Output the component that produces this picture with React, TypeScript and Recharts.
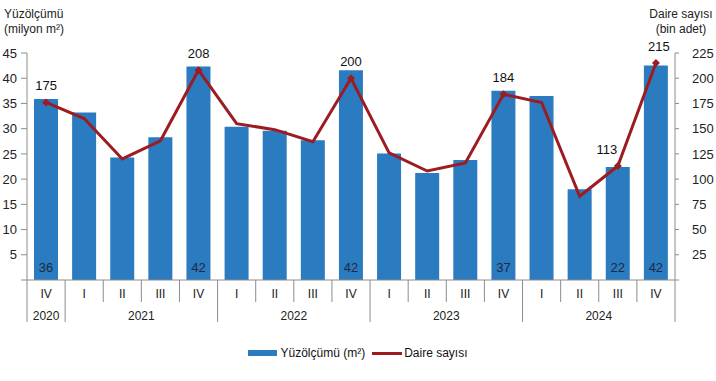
import React from 'react';
import { ComposedChart, Bar, Line, XAxis, YAxis, LabelList, Legend } from 'recharts';

const quarters = ['IV', 'I', 'II', 'III', 'IV', 'I', 'II', 'III', 'IV', 'I', 'II', 'III', 'IV', 'I', 'II', 'III', 'IV'];
const years = ['2020', '2021', '2021', '2021', '2021', '2022', '2022', '2022', '2022', '2023', '2023', '2023', '2023', '2024', '2024', '2024', '2024'];
const yuzolcumu = [35.9, 33.2, 24.3, 28.3, 42.3, 30.4, 29.6, 27.7, 41.6, 25.1, 21.2, 23.8, 37.5, 36.5, 18.0, 22.4, 42.5];
const daire = [176, 160, 120, 138, 208, 155, 149, 137, 200, 126, 108, 116, 184, 176, 83, 113, 215];
const yuzolcumuEtiket = [36, null, null, null, 42, null, null, null, 42, null, null, null, 37, null, null, 22, 42];
const daireEtiket = [175, null, null, null, 208, null, null, null, 200, null, null, null, 184, null, null, 113, 215];

const leftTicks = [0, 5, 10, 15, 20, 25, 30, 35, 40, 45];
const rightTicks = [0, 25, 50, 75, 100, 125, 150, 175, 200, 225];

const data = quarters.map((q, i) => ({
    key: `${years[i]}-${q}-${i}`,
    quarter: q,
    year: years[i],
    alan: yuzolcumu[i],
    daire: daire[i],
    alanEtiket: yuzolcumuEtiket[i],
    daireEtiket: daireEtiket[i],
}));

const W = 716;
const H = 381;
const PLOT_LEFT = 27;
const PLOT_RIGHT = 675;
const BAND = (PLOT_RIGHT - PLOT_LEFT) / quarters.length;

const BLUE = '#2B7BC0';
const RED = '#9C1C22';
const AXIS = '#8c8c8c';
const FONT = '"Liberation Sans", Arial, sans-serif';

function XTick(props: any) {
    const { x, y, payload } = props;
    const i = payload.index;
    const yearStart = i === 0 || years[i] !== years[i - 1];
    const left = x - BAND / 2;
    const right = x + BAND / 2;
    // year label: centre of its group
    let yearLabel: React.ReactNode = null;
    const groupIdx = years.indexOf(years[i]);
    const groupLen = years.filter(v => v === years[i]).length;
    const mid = groupIdx + (groupLen - 1) / 2;
    if (Math.floor(mid) === i) {
        const cx = x + (mid - i) * BAND;
        yearLabel = (
            <text x={cx} y={y + 40} textAnchor="middle" fontSize={12} fill="#222" fontFamily={FONT}>{years[i]}</text>
        );
    }
    return (
        <g>
            <line x1={left} x2={left} y1={y} y2={y + (yearStart ? 42 : 22)} stroke={AXIS} />
            {i === quarters.length - 1 && <line x1={right} x2={right} y1={y} y2={y + 42} stroke={AXIS} />}
            <text x={x} y={y + 18} textAnchor="middle" fontSize={12} fill="#222" fontFamily={FONT}>{quarters[i]}</text>
            {yearLabel}
        </g>
    );
}

function DaireDot(props: any) {
    const { cx, cy, index } = props;
    if (daireEtiket[index] == null) return <g key={`d-${index}`} />;
    return <path key={`d-${index}`} d={`M${cx},${cy - 4} L${cx + 4},${cy} L${cx},${cy + 4} L${cx - 4},${cy} Z`} fill={RED} />;
}

function DaireLabel(props: any) {
    const { x, y, value, index } = props;
    if (value == null) return null;
    const dx = index === 15 ? -11 : index === 16 ? 3 : 0;
    return (
        <text x={x + dx} y={y - 12} textAnchor="middle" fontSize={13} fill="#111" fontFamily={FONT}>{value}</text>
    );
}

function AlanLabel(props: any) {
    const { x, y, width, height, value } = props;
    if (value == null) return null;
    return (
        <text x={x + width / 2} y={y + height - 8} textAnchor="middle" fontSize={13} fill="#1c2a44" fontFamily={FONT}>{value}</text>
    );
}

function LegendContent() {
    return (
        <div style={{ height: 56, boxSizing: 'border-box', paddingTop: 21, display: 'flex', justifyContent: 'center', alignItems: 'flex-start', fontFamily: FONT, fontSize: 12, color: '#111' }}>
            <div style={{ display: 'flex', alignItems: 'center', height: 14 }}>
                <span style={{ width: 29, height: 6, background: BLUE, display: 'inline-block', marginRight: 3 }} />
                <span>Yüzölçümü (m²)</span>
                <span style={{ width: 30, height: 3, background: RED, display: 'inline-block', marginLeft: 7, marginRight: 2 }} />
                <span>Daire sayısı</span>
            </div>
        </div>
    );
}

export default function App() {
    return (
        <div style={{ position: 'relative', width: W, height: H, background: '#fff', fontFamily: FONT }}>
            <style>{`body{margin:0}`}</style>
            <div style={{ position: 'absolute', left: 4, top: 7, fontSize: 12, lineHeight: '15px', color: '#222' }}>
                Yüzölçümü<br />(milyon m²)
            </div>
            <div style={{ position: 'absolute', left: 641, width: 80, top: 7, fontSize: 12, lineHeight: '15px', color: '#222', textAlign: 'center' }}>
                Daire sayısı<br />(bin adet)
            </div>
            <ComposedChart width={W} height={H} data={data} margin={{ top: 53, right: 0, bottom: 0, left: 0 }} barCategoryGap={14}>
                <XAxis
                    dataKey="key"
                    xAxisId="q"
                    interval={0}
                    height={45}
                    tickLine={false}
                    tickSize={0}
                    tickMargin={0}
                    axisLine={{ stroke: AXIS }}
                    tick={<XTick />}
                />
                <YAxis
                    yAxisId="left"
                    orientation="left"
                    width={PLOT_LEFT}
                    domain={[0, 45]}
                    ticks={leftTicks}
                    interval={0}
                    tickSize={6}
                    tickMargin={4}
                    axisLine={{ stroke: AXIS }}
                    tickLine={{ stroke: AXIS }}
                    tickFormatter={(v: number) => (v === 0 ? '' : String(v))}
                    tick={{ fontSize: 13, fill: '#222', fontFamily: FONT }}
                />
                <YAxis
                    yAxisId="right"
                    orientation="right"
                    width={W - PLOT_RIGHT}
                    domain={[0, 225]}
                    ticks={rightTicks}
                    interval={0}
                    tickSize={4}
                    tickMargin={13}
                    axisLine={{ stroke: AXIS }}
                    tickLine={{ stroke: AXIS }}
                    tickFormatter={(v: number) => (v === 0 ? '' : String(v))}
                    tick={{ fontSize: 13, fill: '#222', fontFamily: FONT, textAnchor: 'start' }}
                />
                <Legend verticalAlign="bottom" align="center" content={<LegendContent />} />
                <Bar dataKey="alan" name="Yüzölçümü (m²)" xAxisId="q" yAxisId="left" fill={BLUE} barSize={24} isAnimationActive={false}>
                    <LabelList dataKey="alanEtiket" content={<AlanLabel />} />
                </Bar>
                <Line dataKey="daire" name="Daire sayısı" xAxisId="q" yAxisId="right" stroke={RED} strokeWidth={3} dot={<DaireDot />} activeDot={false} type="linear" isAnimationActive={false}>
                    <LabelList dataKey="daireEtiket" content={<DaireLabel />} />
                </Line>
            </ComposedChart>
        </div>
    );
}
